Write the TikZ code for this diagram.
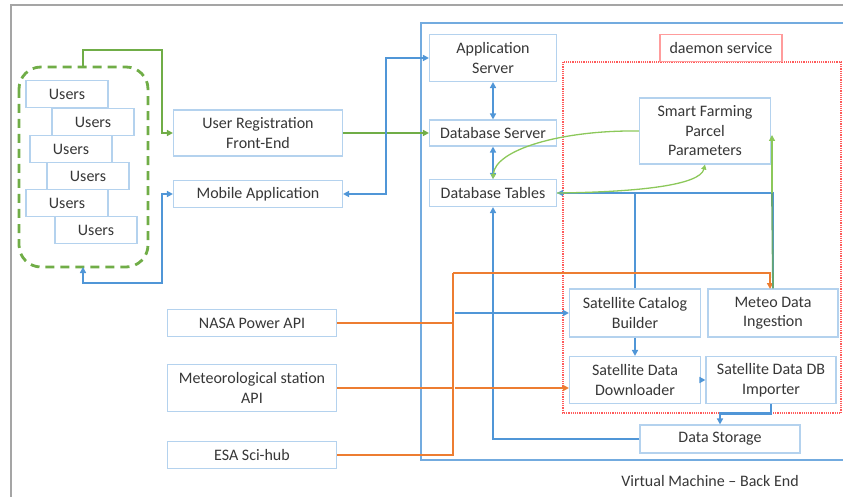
\documentclass[tikz,border=0pt]{standalone}
\usepackage{fontspec}
\setmainfont{Carlito}
\usetikzlibrary{arrows.meta,calc}
\definecolor{boxb}{RGB}{180,210,238}
\definecolor{lblue}{RGB}{80,150,215}
\definecolor{lgreen}{RGB}{112,173,71}
\definecolor{pgreen}{RGB}{140,200,90}
\definecolor{lorange}{RGB}{237,125,49}
\definecolor{lred}{RGB}{255,90,90}
\definecolor{txt}{RGB}{55,55,55}
\definecolor{frm}{RGB}{165,165,165}
\tikzset{
  bx/.style={draw=boxb,line width=1.1pt,fill=white,text=txt,align=center,inner sep=0pt,
    font=\fontsize{16}{19.5}\selectfont},
  ubx/.style={bx,minimum width=82pt,minimum height=27pt},
  tip/.style={-{Triangle[length=6pt,width=6pt]}},
  tips/.style={{Triangle[length=6pt,width=6pt]}-{Triangle[length=6pt,width=6pt]}},
  bl/.style={draw=lblue,line width=2.9pt},
  gl/.style={draw=lgreen,line width=2.9pt},
  ol/.style={draw=lorange,line width=2.6pt},
  thg/.style={draw=pgreen,line width=1.3pt},
}
\begin{document}
\begin{tikzpicture}[x=1pt,y=-1pt]
\useasboundingbox (0,0) rectangle (843,497);
% outer frame
\draw[frm,line width=1.6pt] (11,497) -- (11,5) -- (843,5);
% VM frame
\draw[draw=lblue,line width=1.9pt,opacity=0.8] (843,23) -- (421,23) -- (421,460) -- (843,460);
\node[text=txt,font=\fontsize{16}{19.5}\selectfont] (vmlbl) at (710,481) {Virtual Machine -- Back End};
% daemon area
\draw[lred,line width=1.2pt,densely dotted] (563,62) rectangle (841,413);
\node[bx,draw=lred!60,minimum width=122pt,minimum height=27pt] (daemon) at (721,48) {daemon service};

% users group
\draw[lgreen,line width=2.8pt,dash pattern=on 9pt off 6pt,rounded corners=22pt] (19,67) rectangle (148,267);
\coordinate (grpn) at (83,67);
\coordinate (grps) at (83,267);
\node[ubx] (u1) at (67,94) {Users};
\node[ubx] (u2) at (93,122) {Users};
\node[ubx] (u3) at (71,149) {Users};
\node[ubx] (u4) at (88,176) {Users};
\node[ubx] (u5) at (67,203) {Users};
\node[ubx] (u6) at (96,230) {Users};

% left boxes
\node[bx,minimum width=169pt,minimum height=46pt] (ureg) at (258,133) {User Registration\\Front-End};
\node[bx,minimum width=169pt,minimum height=27pt] (mob) at (258,194) {Mobile Application};
\node[bx,minimum width=169pt,minimum height=27pt] (nasa) at (252,323) {NASA Power API};
\node[bx,minimum width=169pt,minimum height=47pt] (mapi) at (252,388) {Meteorological station\\API};
\node[bx,minimum width=169pt,minimum height=27pt] (esa) at (252,455) {ESA Sci-hub};

% server boxes
\node[bx,minimum width=127pt,minimum height=47pt] (app) at (493,58) {Application\\Server};
\node[bx,minimum width=127pt,minimum height=26pt] (dbs) at (493,133) {Database Server};
\node[bx,minimum width=127pt,minimum height=27pt] (dbt) at (493,193) {Database Tables};
\node[bx,minimum width=131pt,minimum height=66pt] (smart) at (705,131) {Smart Farming\\Parcel\\Parameters};
\node[bx,minimum width=131pt,minimum height=48pt] (cat) at (635,313) {Satellite Catalog\\Builder};
\node[bx,minimum width=130pt,minimum height=48pt] (met) at (773,313) {Meteo Data\\Ingestion};
\node[bx,minimum width=131pt,minimum height=47pt] (dl) at (635,380) {Satellite Data\\Downloader};
\node[bx,minimum width=130pt,minimum height=47pt] (imp) at (771,380) {Satellite Data DB\\Importer};
\node[bx,minimum width=160pt,minimum height=28pt] (sto) at (720,439) {Data Storage};

% green connectors
\draw[gl,tip] (grpn) |- (162,50) |- (ureg.west);
\draw[gl,tip] (ureg.east) -- (dbs.west);

% blue connectors
\draw[bl,tips] (mob.west) -- (162,194) |- (83,283) -- (grps);
\draw[bl,tips] (mob.east) -| (386,58) -- (app.west);
\draw[bl,tips] (app.south) -- (dbs.north);
\draw[bl,tips] (dbs.south) -- (dbt.north);
\draw[bl,tip] (sto.west) -| (dbt.south);
\draw[bl] (cat.north) |- (635,193);
\draw[bl,tip] (met.north) |- (dbt.east);

% orange connectors
\coordinate (obus) at (453,273);
\draw[ol] (nasa.east) -- (453,323);
\draw[ol] (mapi.east) -- (453,388);
\draw[ol] (esa.east) -| (obus);
\draw[ol,tip] (obus) -- (770,273) -- (770,289);
\draw[ol,tip] (455,388) -- (dl.west |- mapi.east);
\draw[bl,line width=2.2pt,tip] (455,313) -- (cat.west);

% green thin
\coordinate (sfin) at (772,135);
\draw[thg,line width=1.8pt,draw=lgreen!70!lblue] (met.north) -- (772,193);
\draw[thg,tip] (772,193) -- (sfin);
\draw[thg,-{Triangle[length=5pt,width=5pt]}] (smart.west) .. controls (560,130) and (495,150) .. (dbt.north);
\draw[thg,-{Triangle[length=5pt,width=5pt]}] (dbt.east) .. controls (640,192) and (700,185) .. (smart.south);

% daemon internal
\draw[bl,tip] (cat.south) -- (dl.north);
\draw[bl,line width=1.8pt,tip] (dl.east) -- (imp.west);
\draw[bl,tip] (imp.south) -- ++(0,9) -| (sto.north);
\end{tikzpicture}
\end{document}
